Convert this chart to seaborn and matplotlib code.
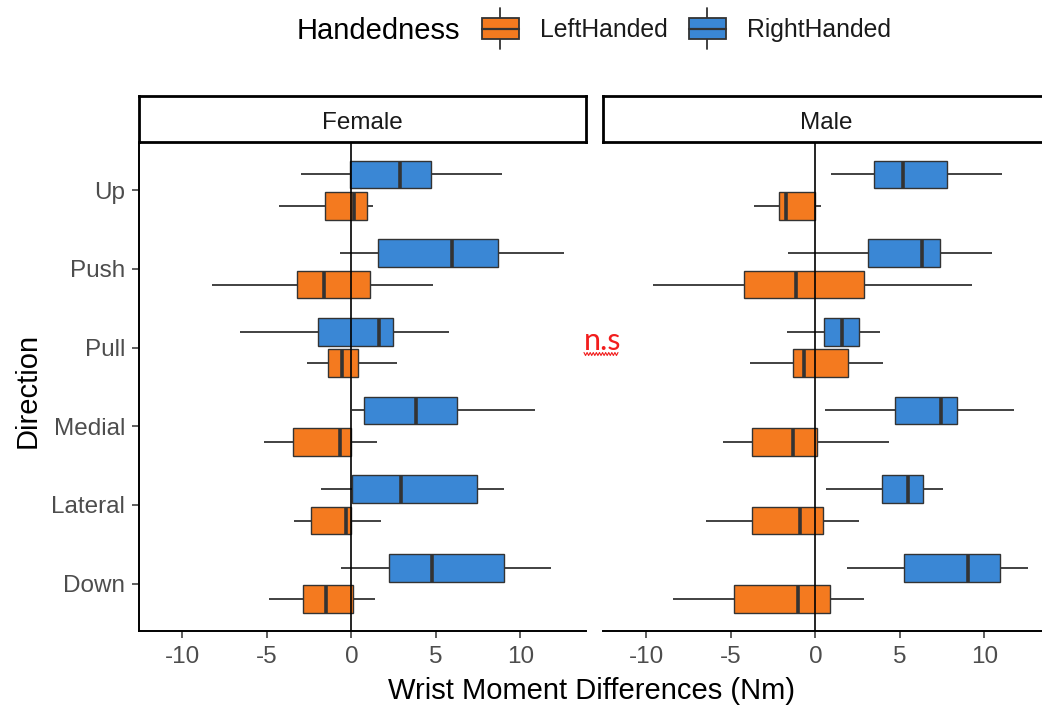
import numpy as np
import pandas as pd
import matplotlib
matplotlib.use("Agg")
import matplotlib.pyplot as plt
import seaborn as sns
from matplotlib.legend_handler import HandlerBase
from matplotlib.patches import Rectangle, Patch
from matplotlib.lines import Line2D

# Five-number summaries (whisker low, Q1, median, Q3, whisker high) per direction
directions = ["Up", "Push", "Pull", "Medial", "Lateral", "Down"]
sexes = ["Female", "Male"]
hands = ["LeftHanded", "RightHanded"]

female_left = [
    (-4.30, -1.55, 0.15, 0.90, 1.25),
    (-8.25, -3.20, -1.60, 1.10, 4.85),
    (-2.65, -1.40, -0.55, 0.40, 2.70),
    (-5.15, -3.45, -0.65, 0.00, 1.50),
    (-3.40, -2.40, -0.30, -0.05, 1.75),
    (-4.90, -2.85, -1.50, 0.10, 1.40),
]
female_right = [
    (-3.00, -0.10, 2.85, 4.70, 8.90),
    (-0.70, 1.60, 5.95, 8.65, 12.60),
    (-6.60, -2.00, 1.65, 2.45, 5.80),
    (0.05, 0.75, 3.80, 6.25, 10.85),
    (-1.80, 0.05, 2.95, 7.45, 9.05),
    (-0.60, 2.20, 4.75, 9.00, 11.80),
]
male_left = [
    (-3.65, -2.15, -1.75, 0.00, 0.35),
    (-9.60, -4.20, -1.15, 2.85, 9.25),
    (-3.85, -1.30, -0.65, 1.90, 4.00),
    (-5.45, -3.75, -1.30, 0.10, 4.35),
    (-6.50, -3.75, -0.90, 0.45, 2.55),
    (-8.45, -4.80, -1.05, 0.85, 2.90),
]
male_right = [
    (0.90, 3.45, 5.20, 7.80, 11.05),
    (-1.60, 3.10, 6.30, 7.40, 10.45),
    (-1.70, 0.50, 1.60, 2.60, 3.85),
    (0.55, 4.70, 7.45, 8.40, 11.75),
    (0.65, 3.95, 5.45, 6.35, 7.55),
    (1.85, 5.25, 9.05, 10.90, 12.60),
]

x_ticks = [-10, -5, 0, 5, 10]
hand_colors = {"LeftHanded": "#F47A1F", "RightHanded": "#3A87D5"}

# Long table: the five summary values of each group form its sample, so the
# quartiles seaborn computes equal Q1 / median / Q3 and whis=inf spans the range.
summaries = {
    ("Female", "LeftHanded"): female_left,
    ("Female", "RightHanded"): female_right,
    ("Male", "LeftHanded"): male_left,
    ("Male", "RightHanded"): male_right,
}
rows = []
for (sex, hand), stats in summaries.items():
    for d, five in zip(directions, stats):
        for v in five:
            rows.append({"Sex": sex, "Handedness": hand, "Direction": d, "value": v})
df = pd.DataFrame(rows)

sns.set_style("white")
plt.rcParams["font.family"] = ["Liberation Sans", "DejaVu Sans"]

W, H = 1042, 709
fig = plt.figure(figsize=(W / 100, H / 100), dpi=100)


def fx(px):
    return px / W


def fy(py):
    return 1 - py / H


panel_top, panel_bottom = 143, 630.7
strip_top = 96
panel_span = {"Female": (139, 586), "Male": (603, 1050)}
xlim = (-12.57, 13.88)
edge = "#333333"
tick_grey = "#4D4D4D"

for sex in sexes:
    left, right = panel_span[sex]
    ax = fig.add_axes([fx(left), fy(panel_bottom), (right - left) / W,
                       (panel_bottom - panel_top) / H])
    sub = df[df["Sex"] == sex]
    sns.boxplot(
        data=sub, x="value", y="Direction", hue="Handedness",
        order=directions, hue_order=["RightHanded", "LeftHanded"],
        palette=hand_colors, saturation=1, width=0.8, gap=0.12,
        whis=np.inf, showfliers=False, linecolor=edge, linewidth=1.0,
        medianprops={"linewidth": 2.6, "color": edge},
        whiskerprops={"linewidth": 1.3},
        capprops={"visible": False},
        legend=False, ax=ax,
    )
    ax.axvline(0, color="black", lw=1.2, zorder=6)
    ax.set_xlim(*xlim)
    ax.set_ylim(5.6, -0.6)
    ax.set_xticks(x_ticks)
    ax.set_xticklabels([str(t) for t in x_ticks])
    ax.set_xlabel("")
    ax.set_ylabel("")
    for s in ["top", "right"]:
        ax.spines[s].set_visible(False)
    ax.spines["bottom"].set_linewidth(1.4)
    ax.spines["bottom"].set_color("black")
    ax.tick_params(axis="x", length=5, width=1.1, color=edge, labelsize=17.5,
                   labelcolor=tick_grey, pad=6, bottom=True)
    if sex == "Female":
        ax.spines["left"].set_linewidth(1.4)
        ax.spines["left"].set_color("black")
        ax.tick_params(axis="y", length=5, width=1.1, color=edge, labelsize=17.5,
                       labelcolor=tick_grey, pad=5, left=True)
    else:
        ax.spines["left"].set_visible(False)
        ax.tick_params(axis="y", left=False, labelleft=False)

    # facet strip
    sax = fig.add_axes([fx(left), fy(panel_top - 1), (right - left) / W,
                        (panel_top - 1 - strip_top) / H])
    sax.set_xticks([])
    sax.set_yticks([])
    sax.set_facecolor("white")
    for s in sax.spines.values():
        s.set_linewidth(2.0)
        s.set_color("black")
    sax.text((586 - 139) / 2 / (right - left), 0.42, sex, transform=sax.transAxes,
             ha="center", va="center", fontsize=17.5, color="#1A1A1A")

fig.text(fx(28), fy(390), "Direction", rotation=90, ha="center", va="center",
         fontsize=21, color="black")
fig.text(fx(591), fy(691), "Wrist Moment Differences (Nm)", ha="center",
         va="center", fontsize=21, color="black")


class BoxKey(HandlerBase):
    def create_artists(self, legend, orig_handle, xdescent, ydescent,
                       width, height, fontsize, trans):
        x0, y0 = -xdescent, -ydescent
        cx = x0 + width / 2
        cy = y0 + height / 2
        whisker = Line2D([cx, cx], [y0 - 0.45 * height, y0 + 1.45 * height],
                         color=edge, lw=1.3, transform=trans)
        box = Rectangle((x0, y0), width, height, facecolor=orig_handle.get_facecolor(),
                        edgecolor=edge, lw=1.3, transform=trans)
        median = Line2D([x0, x0 + width], [cy, cy], color=edge, lw=1.6,
                        transform=trans)
        return [whisker, box, median]


handles = [Patch(facecolor=hand_colors[h]) for h in hands]
fig.text(fx(297), fy(31), "Handedness", ha="left", va="center", fontsize=21,
         color="black")
fig.legend(handles, hands, handler_map={Patch: BoxKey()}, loc="center left",
           bbox_to_anchor=(fx(481.7), fy(30)), ncol=2, frameon=False,
           fontsize=17.8, handlelength=1.5, handleheight=0.95,
           handletextpad=0.85, columnspacing=0.85, borderpad=0,
           borderaxespad=0, labelcolor="#1A1A1A")

# significance note between the panels
fig.text(fx(603), fy(341), "n.s", ha="center", va="center", fontsize=22,
         color="#F21D1D", family=["Lato", "DejaVu Sans"])
squiggle_x = np.linspace(584, 618, 23)
squiggle_y = np.where(np.arange(23) % 2 == 0, 352.5, 355.5)
fig.add_artist(Line2D(fx(squiggle_x), fy(squiggle_y), color="#F21D1D", lw=0.8))

fig.savefig("out.png", dpi=100)
